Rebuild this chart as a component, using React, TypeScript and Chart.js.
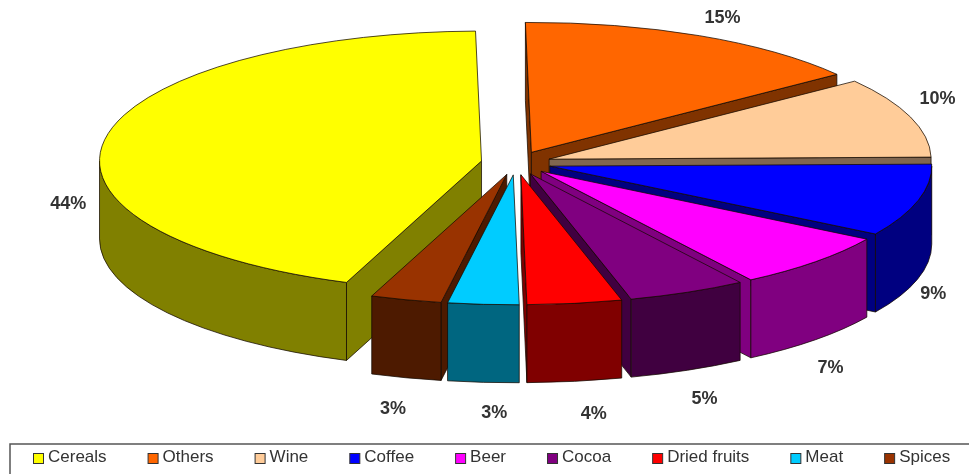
import React, { useEffect, useRef } from "react";
import { Chart, registerables } from "chart.js";

Chart.register(...registerables);

const categories = ["Cereals", "Others", "Wine", "Coffee", "Beer", "Cocoa", "Dried fruits", "Meat", "Spices"];
const shares = [44, 15, 10, 9, 7, 5, 4, 3, 3];
const topColours = ["#FFFF00", "#FF6600", "#FFCC99", "#0000FF", "#FF00FF", "#800080", "#FF0000", "#00CCFF", "#993300"];
const wallColours = ["#808000", "#803300", "#806650", "#000080", "#800080", "#400040", "#800000", "#006680", "#4D1A00"];
// Offset of each percentage label from the point where its slice's direction meets the rim.
const labelNudges = [[-37, 65], [23, -18], [27, -18], [15, 16], [15, 28], [17, 29], [19, 33], [11, 31], [-13, 31]];

const WIDTH = 969;
const HEIGHT = 474;
const CENTRE_X = 516;
const CENTRE_Y = 163;
const RADIUS_X = 382;
const TILT = 0.34;
const RADIUS_Y = RADIUS_X * TILT;
const DEPTH = 78;
const EXPLODE = 35;
const FIRST_SLICE_ANGLE = 200.7;

const explodedCentre = (mid: number) => ({
  x: CENTRE_X + Math.cos(mid) * EXPLODE,
  y: CENTRE_Y + Math.sin(mid) * EXPLODE * TILT,
});

function sliceOutline(ctx: CanvasRenderingContext2D, c: { x: number; y: number }, a: number, b: number) {
  ctx.beginPath();
  ctx.moveTo(c.x, c.y);
  ctx.ellipse(c.x, c.y, RADIUS_X, RADIUS_Y, 0, a, b);
  ctx.closePath();
}

function paint(ctx: CanvasRenderingContext2D, fill: string) {
  ctx.fillStyle = fill;
  ctx.fill();
  ctx.strokeStyle = "rgba(20,10,0,0.75)";
  ctx.lineWidth = 1;
  ctx.stroke();
}

function cutFace(ctx: CanvasRenderingContext2D, c: { x: number; y: number }, angle: number, fill: string) {
  const ex = c.x + Math.cos(angle) * RADIUS_X;
  const ey = c.y + Math.sin(angle) * RADIUS_Y;
  ctx.beginPath();
  ctx.moveTo(c.x, c.y);
  ctx.lineTo(ex, ey);
  ctx.lineTo(ex, ey + DEPTH);
  ctx.lineTo(c.x, c.y + DEPTH);
  ctx.closePath();
  paint(ctx, fill);
}

function rimWall(ctx: CanvasRenderingContext2D, c: { x: number; y: number }, a: number, b: number, fill: string) {
  // Only the part of the rim facing the viewer is visible.
  for (let turn = 0; turn < 3; turn++) {
    const lo = Math.max(a, turn * 2 * Math.PI);
    const hi = Math.min(b, Math.PI + turn * 2 * Math.PI);
    if (lo >= hi) continue;
    ctx.beginPath();
    ctx.ellipse(c.x, c.y, RADIUS_X, RADIUS_Y, 0, lo, hi);
    ctx.ellipse(c.x, c.y + DEPTH, RADIUS_X, RADIUS_Y, 0, hi, lo, true);
    ctx.closePath();
    paint(ctx, fill);
  }
}

// Paints the pie as an exploded, tilted solid: the library's arcs give the angles and top faces.
const solidPie = {
  id: "solidPie",
  beforeDatasetDraw(chart: any) {
    const ctx: CanvasRenderingContext2D = chart.ctx;
    const arcs: any[] = chart.getDatasetMeta(0).data;
    const order = arcs
      .map((arc, i) => ({ arc, i, mid: (arc.startAngle + arc.endAngle) / 2 }))
      .sort((p, q) => Math.sin(p.mid) - Math.sin(q.mid));

    for (const { arc, i, mid } of order) {
      const c = explodedCentre(mid);
      const a = arc.startAngle;
      const b = arc.endAngle;
      const wall = wallColours[i];
      if (Math.cos(a) < 0) cutFace(ctx, c, a, wall);
      if (Math.cos(b) > 0) cutFace(ctx, c, b, wall);
      rimWall(ctx, c, a, b, wall);

      const scale = RADIUS_X / arc.outerRadius;
      ctx.save();
      ctx.translate(c.x, c.y);
      ctx.scale(scale, scale * TILT);
      ctx.translate(-arc.x, -arc.y);
      arc.draw(ctx);
      ctx.restore();

      sliceOutline(ctx, c, a, b);
      ctx.strokeStyle = "rgba(20,10,0,0.75)";
      ctx.lineWidth = 1;
      ctx.stroke();
    }
    return false;
  },
  afterDatasetsDraw(chart: any) {
    const ctx: CanvasRenderingContext2D = chart.ctx;
    const arcs: any[] = chart.getDatasetMeta(0).data;
    ctx.save();
    ctx.font = 'bold 18px "Liberation Sans", Arial, sans-serif';
    ctx.fillStyle = "#333333";
    ctx.textAlign = "center";
    ctx.textBaseline = "middle";
    arcs.forEach((arc, i) => {
      const mid = (arc.startAngle + arc.endAngle) / 2;
      const x = CENTRE_X + Math.cos(mid) * (RADIUS_X + EXPLODE);
      const y = CENTRE_Y + Math.sin(mid) * (RADIUS_X + EXPLODE) * TILT + (Math.sin(mid) > 0 ? DEPTH : 0);
      ctx.fillText(`${shares[i]}%`, x + labelNudges[i][0], y + labelNudges[i][1]);
    });
    ctx.restore();
  },
};

// Boxed key along the bottom edge, running off the right side of the canvas.
const keyStrip = {
  id: "keyStrip",
  afterDraw(chart: any) {
    const ctx: CanvasRenderingContext2D = chart.ctx;
    const frameLeft = 10;
    const frameTop = 444;
    ctx.save();
    ctx.strokeStyle = "#555555";
    ctx.lineWidth = 1.5;
    ctx.beginPath();
    ctx.moveTo(frameLeft, HEIGHT + 2);
    ctx.lineTo(frameLeft, frameTop);
    ctx.lineTo(WIDTH + 2, frameTop);
    ctx.stroke();

    ctx.font = '17px "Liberation Sans", Arial, sans-serif';
    ctx.textBaseline = "middle";
    let x = 33;
    categories.forEach((name, i) => {
      ctx.fillStyle = topColours[i];
      ctx.fillRect(x + 0.5, 453.5, 10, 10);
      ctx.strokeStyle = "#333333";
      ctx.lineWidth = 1;
      ctx.strokeRect(x + 0.5, 453.5, 10, 10);
      ctx.fillStyle = "#333333";
      ctx.fillText(name, x + 15, 457);
      x += 15 + ctx.measureText(name).width + 41;
    });
    ctx.restore();
  },
};

export default function App() {
  const canvasRef = useRef<HTMLCanvasElement>(null);

  useEffect(() => {
    const chart = new Chart(canvasRef.current!, {
      type: "pie",
      data: {
        labels: categories,
        datasets: [{ data: shares, backgroundColor: topColours, borderWidth: 0, clip: false } as any],
      },
      options: {
        responsive: false,
        animation: false,
        rotation: FIRST_SLICE_ANGLE,
        events: [],
        plugins: { legend: { display: false }, tooltip: { enabled: false } },
      },
      plugins: [solidPie, keyStrip],
    });
    return () => chart.destroy();
  }, []);

  return (
    <canvas
      ref={canvasRef}
      width={WIDTH}
      height={HEIGHT}
      style={{ position: "fixed", left: 0, top: 0, width: WIDTH, height: HEIGHT, background: "#ffffff" }}
    />
  );
}
